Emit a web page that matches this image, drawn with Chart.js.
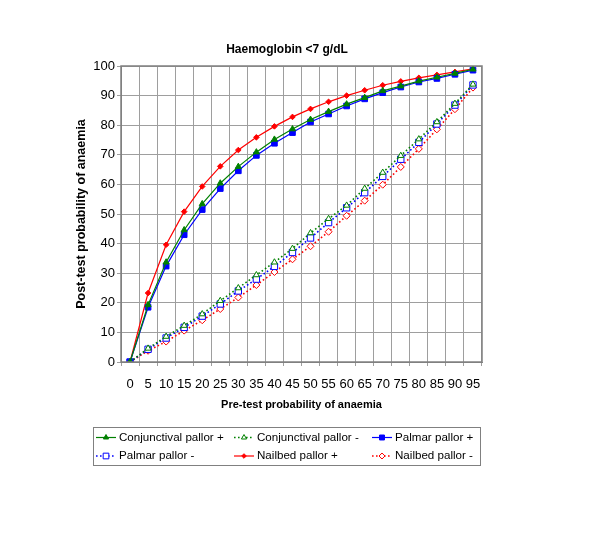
<!DOCTYPE html>
<html>
<head>
<meta charset="utf-8">
<script src="https://cdn.jsdelivr.net/npm/chart.js@4.4.1/dist/chart.umd.min.js"></script>
<style>
  body { margin: 0; background: #fff; }
  canvas { display: block; }
</style>
</head>
<body>
<canvas id="chart" width="600" height="536"></canvas>
<script>
// pre-test probability (%) on the x axis
const pretest = ['0', '5', '10', '15', '20', '25', '30', '35', '40', '45', '50', '55', '60', '65', '70', '75', '80', '85', '90', '95'];

// post-test probability (%)
const conjPos = [0, 19.3, 33.7, 44.6, 53.4, 60.4, 66.0, 70.9, 75.2, 78.7, 81.9, 84.6, 87.1, 89.3, 91.6, 93.2, 94.9, 96.2, 97.5, 98.9];
const conjNeg = [0, 4.6, 8.6, 12.3, 16.2, 20.7, 25.0, 29.4, 33.7, 38.3, 43.6, 48.4, 52.9, 58.6, 64.0, 69.7, 75.3, 81.1, 87.3, 93.8];
const palmarPos = [0, 18.5, 32.4, 43.0, 51.5, 58.6, 64.6, 69.8, 73.9, 77.5, 81.1, 83.8, 86.5, 88.9, 91.0, 92.9, 94.6, 95.8, 97.2, 98.6];
const palmarNeg = [0, 4.3, 8.1, 11.7, 15.5, 19.6, 24.0, 28.0, 32.3, 37.0, 41.9, 47.1, 52.1, 57.2, 62.7, 68.5, 74.2, 80.4, 86.8, 93.6];
const nailPos = [0, 23.3, 39.6, 50.8, 59.3, 66.1, 71.6, 75.9, 79.6, 82.8, 85.5, 87.9, 90.0, 91.8, 93.5, 94.8, 96.0, 97.0, 98.0, 99.0];
const nailNeg = [0, 3.8, 6.9, 10.6, 14.1, 17.9, 21.8, 26.0, 30.4, 34.7, 39.1, 44.0, 49.4, 54.5, 59.9, 65.9, 72.0, 78.6, 85.4, 92.7];

const GREEN = '#008000';
const BLUE = '#0000ff';
const RED = '#ff0000';
const FONT = '"Liberation Sans", Arial, sans-serif';

Chart.defaults.font.family = FONT;
Chart.defaults.color = '#000';

function solid(label, data, color, style, radius) {
    return {
        label, data,
        borderColor: color, borderWidth: 1.2,
        pointStyle: style, pointRadius: radius,
        pointBackgroundColor: color, pointBorderColor: color, pointBorderWidth: 1,
        tension: 0
    };
}

function dotted(label, data, color, style, radius) {
    return {
        label, data,
        borderColor: color, borderWidth: 1.6, borderDash: [1.6, 2.4],
        pointStyle: style, pointRadius: radius,
        pointBackgroundColor: '#fff', pointBorderColor: color, pointBorderWidth: 1,
        tension: 0
    };
}

// Excel style legend: line sample with marker, boxed, 3 columns
const boxLegend = {
    id: 'boxLegend',
    afterDraw(chart) {
        const ctx = chart.ctx;
        ctx.save();
        ctx.strokeStyle = '#808080';
        ctx.lineWidth = 1;
        ctx.strokeRect(93.5, 427.5, 387, 38);
        ctx.font = '11.6px ' + FONT;
        ctx.textBaseline = 'middle';
        ctx.fillStyle = '#000';
        const cols = [96, 234, 372];
        const rows = [437.5, 456];
        chart.data.datasets.forEach((ds, i) => {
            const x = cols[i % 3];
            const y = rows[Math.floor(i / 3)];
            ctx.save();
            ctx.strokeStyle = ds.borderColor;
            ctx.lineWidth = ds.borderWidth;
            ctx.setLineDash(ds.borderDash || []);
            ctx.beginPath();
            ctx.moveTo(x, y);
            ctx.lineTo(x + 20, y);
            ctx.stroke();
            ctx.setLineDash([]);
            ctx.fillStyle = ds.pointBackgroundColor;
            ctx.strokeStyle = ds.pointBorderColor;
            ctx.lineWidth = ds.pointBorderWidth;
            Chart.helpers.drawPoint(ctx, {pointStyle: ds.pointStyle, radius: ds.pointRadius - 0.5, borderWidth: 1}, x + 10, y);
            ctx.restore();
            ctx.fillText(ds.label, x + 23, y);
        });
        ctx.restore();
    }
};

// dark frame round the plot area
const plotFrame = {
    id: 'plotFrame',
    afterDatasetsDraw(chart) {
        const {left, top, right, bottom} = chart.chartArea;
        const ctx = chart.ctx;
        ctx.save();
        ctx.strokeStyle = '#808080';
        ctx.lineWidth = 1.5;
        ctx.strokeRect(left, top, right - left, bottom - top);
        ctx.restore();
    }
};

new Chart(document.getElementById('chart'), {
    type: 'line',
    data: {
        labels: pretest,
        datasets: [
            solid('Conjunctival pallor +', conjPos, GREEN, 'triangle', 3.5),
            dotted('Conjunctival pallor -', conjNeg, GREEN, 'triangle', 3.5),
            solid('Palmar pallor +', palmarPos, BLUE, 'rect', 4),
            dotted('Palmar pallor -', palmarNeg, BLUE, 'rect', 4.5),
            solid('Nailbed pallor +', nailPos, RED, 'rectRot', 2.8),
            dotted('Nailbed pallor -', nailNeg, RED, 'rectRot', 3.5)
        ]
    },
    options: {
        responsive: false,
        animation: false,
        layout: { padding: { left: 92, right: 118, top: 0, bottom: 114 } },
        plugins: {
            legend: { display: false },
            tooltip: { enabled: false },
            title: {
                display: true,
                text: 'Haemoglobin <7 g/dL',
                font: { size: 12, weight: 'bold' },
                padding: { top: 42.6, bottom: 9 }
            }
        },
        scales: {
            x: {
                offset: true,
                grid: { offset: true, color: '#9e9e9e', tickLength: 4 },
                border: { color: '#808080' },
                ticks: { autoSkip: false, maxRotation: 0, padding: 11, font: { size: 13 } },
                title: {
                    display: true,
                    text: 'Pre-test probability of anaemia',
                    font: { size: 11, weight: 'bold' },
                    padding: { top: 0, bottom: 10.3 }
                },
                afterFit(scale) { scale.height = 60; }
            },
            y: {
                min: 0, max: 100,
                grid: { color: '#9e9e9e', tickLength: 4 },
                border: { color: '#808080' },
                ticks: { stepSize: 10, padding: 2, font: { size: 13 } },
                title: {
                    display: true,
                    text: 'Post-test probability of anaemia',
                    font: { size: 12.5, weight: 'bold' },
                    padding: { top: -17.5, bottom: 0 }
                },
                afterFit(scale) { scale.width = 29; }
            }
        }
    },
    plugins: [plotFrame, boxLegend]
});
</script>
</body>
</html>
